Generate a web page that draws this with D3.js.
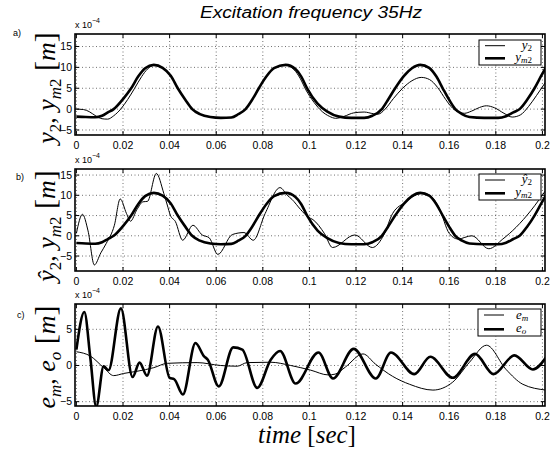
<!DOCTYPE html>
<html><head><meta charset="utf-8">
<script src="https://cdn.jsdelivr.net/npm/d3@7"></script>
<style>body{margin:0;background:#fff} svg{display:block} text{white-space:pre}</style>
</head><body><svg id="c" width="555" height="457"></svg>
<script>
// ---------- data ----------
const titleText = "Excitation frequency 35Hz";
const tTicks = [0,0.02,0.04,0.06,0.08,0.1,0.12,0.14,0.16,0.18,0.2];
const tTickLabels = ["0","0.02","0.04","0.06","0.08","0.1","0.12","0.14","0.16","0.18","0.2"];
const yTicksA = [-5,0,5,10,15];
const yTicksB = [-5,0,5,10,15];
const yTicksC = [-5,0,5];
const panelLetters = ["a)","b)","c)"];

// model output y_m2 (x 1e-4 m)
const ym2 = [[0,-1.8],[0.004,-1.9],[0.008,-1.95],[0.011,-1.6],[0.0135,-0.8],[0.016,0],[0.02,2.4],[0.0235,5],[0.0265,7.8],[0.0295,9.8],[0.0332,10.6],[0.037,9.9],[0.0405,8.0],[0.0435,5],[0.0468,2.2],[0.0497,0],[0.053,-1.2],[0.0575,-1.9],[0.062,-2.1],[0.0665,-2.0],[0.0695,-1.2],[0.0726,0],[0.0755,2.3],[0.0783,5],[0.0815,7.8],[0.0848,9.8],[0.0898,10.6],[0.094,9.6],[0.0965,7.8],[0.099,5],[0.1035,1.3],[0.1077,-0.6],[0.1127,-1.8],[0.118,-2.1],[0.1235,-2.1],[0.127,-1.6],[0.1311,0],[0.1338,2.3],[0.1368,5],[0.1405,7.9],[0.144,9.8],[0.1476,10.6],[0.1514,9.9],[0.1545,7.8],[0.1572,5],[0.16,2.2],[0.1626,0],[0.1655,-1.2],[0.1687,-1.9],[0.175,-2.1],[0.181,-2.1],[0.1844,-1.7],[0.1875,-0.8],[0.1902,0],[0.1935,2.3],[0.1966,5],[0.1995,8.0],[0.2015,10]];
// measured y_2
const y2 = [[0,0],[0.003,-0.1],[0.0055,-0.6],[0.0085,-1.7],[0.011,-2.3],[0.0134,-2.4],[0.016,-1.6],[0.019,0],[0.022,2.3],[0.025,5],[0.028,7.8],[0.0305,9.6],[0.0335,10.5],[0.037,9.9],[0.0405,8.0],[0.0435,5],[0.0468,2.2],[0.0497,0],[0.053,-1.2],[0.0575,-1.9],[0.062,-2.1],[0.0665,-2.0],[0.0695,-1.2],[0.0726,0],[0.0755,2.3],[0.0783,5],[0.0815,7.8],[0.0848,9.8],[0.0895,10.6],[0.0935,9.4],[0.096,7.4],[0.0985,4.6],[0.102,1.6],[0.1055,-0.6],[0.1085,-1.7],[0.1113,-2.2],[0.115,-1.7],[0.119,-0.9],[0.1235,-0.7],[0.1275,-1.1],[0.1295,-1.2],[0.1325,0.0],[0.136,2.5],[0.14,5.0],[0.144,6.8],[0.148,7.6],[0.1515,7.1],[0.155,5.2],[0.1585,2.3],[0.1615,0.2],[0.1645,-0.8],[0.1665,-1.0],[0.1695,-0.5],[0.173,0.4],[0.176,0.8],[0.1795,0.3],[0.1835,-1.0],[0.187,-1.9],[0.1905,-1.4],[0.194,0.6],[0.1975,3.3],[0.2015,6.6]];
// estimated y_2 hat
const y2hat = [[0,0.6],[0.0026,5.3],[0.005,1.2],[0.0077,-7.2],[0.0105,-4.2],[0.0128,-1.9],[0.0163,2.6],[0.0188,9.1],[0.0215,5.5],[0.0232,3.6],[0.026,6.5],[0.0286,8.4],[0.0305,8.5],[0.0343,15.4],[0.0375,10.5],[0.039,7.6],[0.0403,5.1],[0.0425,3.5],[0.0456,-1.1],[0.050,2.6],[0.054,0.2],[0.057,-0.5],[0.0607,-4.6],[0.0669,0.3],[0.0719,0.8],[0.0759,-1.1],[0.081,5.5],[0.0874,11.9],[0.0905,10.0],[0.0925,9.0],[0.0962,6.5],[0.0995,4.6],[0.1015,4.0],[0.1065,0.5],[0.1099,-2.9],[0.1195,0.2],[0.127,-2.9],[0.132,0.3],[0.1357,5.5],[0.1415,8.4],[0.145,9.9],[0.149,10.5],[0.153,9.3],[0.1557,6.8],[0.16,0.6],[0.1637,-0.8],[0.1697,0.0],[0.177,-3.2],[0.183,-0.8],[0.1887,2.1],[0.195,6.2],[0.2015,11.3]];
// errors
const em = [[0,1.9],[0.006,1.3],[0.0117,-0.3],[0.016,-1.4],[0.0203,-1.1],[0.026,-0.8],[0.0332,-0.3],[0.039,0.3],[0.0518,0.4],[0.0619,0.0],[0.069,-0.1],[0.0733,0.4],[0.0834,0.45],[0.092,0.0],[0.1006,-0.65],[0.108,-1.3],[0.111,-1.2],[0.1155,-0.2],[0.123,1.6],[0.1283,0.2],[0.1357,-1.5],[0.143,-2.6],[0.153,-3.4],[0.1615,-2.3],[0.1687,0.45],[0.176,2.8],[0.1844,-0.55],[0.1916,-2.6],[0.2015,-3.4]];
const eo = [[0,2.2],[0.0034,7.4],[0.006,1.0],[0.0085,-5.7],[0.0117,-0.1],[0.0138,-0.65],[0.0191,7.9],[0.0241,-1.6],[0.0271,0.4],[0.0303,-1.4],[0.035,5.4],[0.040,-1.7],[0.042,-1.9],[0.0457,-4.0],[0.0511,3.1],[0.0547,1.3],[0.0564,0.8],[0.0611,-2.9],[0.0673,2.5],[0.0712,2.2],[0.0776,-3.1],[0.0834,0.8],[0.0874,2.0],[0.0941,-2.5],[0.1039,1.8],[0.1101,-1.8],[0.119,2.3],[0.1285,-1.8],[0.135,1.8],[0.145,-1.2],[0.1519,1.2],[0.1615,-1.7],[0.1711,1.6],[0.179,-1.2],[0.188,1.4],[0.1959,-0.55],[0.2015,1.1]];

// ---------- drawing ----------
const svg = d3.select("#c");
const L = 75, R = 545;
const x = d3.scaleLinear().domain([-0.0006, 0.2011]).range([L, R]);
const SERIF = "'Liberation Serif','DejaVu Serif',serif";
const SANS = "'Liberation Sans',Arial,Helvetica,sans-serif";

svg.append("text").attr("x", 311).attr("y", 18).attr("text-anchor","middle")
  .attr("font-family", SANS).attr("font-style","italic").attr("font-size",16)
  .attr("textLength",222).attr("lengthAdjust","spacingAndGlyphs").text(titleText);

const panels = [
  {top:34, bot:135, dom:[-6.2,18], ticks:yTicksA, series:[{d:y2,w:1},{d:ym2,w:2.6}], let:{x:13,y:36},
   label:[["y",1,0],["2",0,1],[", ",0,0],["y",1,0],["m",1,1],["2",0,1],[" [",0,0,1],["m",1,0],["]",0,0,1]], lc:88,
   leg:{x:479,y:40,w:62,h:25,l1:45.7,l2:58.3,t1:48.5,t2:61,anchor:"end",tx:532, n:[["y",""],["y","m2"]], n1sub:"2"}},
  {top:169, bot:271, dom:[-8.7,16.5], ticks:yTicksB, series:[{d:y2hat,w:1},{d:ym2,w:2.6}], let:{x:16,y:180},
   label:[["ŷ",1,0],["2",0,1],[", ",0,0],["y",1,0],["m",1,1],["2",0,1],[" [",0,0,1],["m",1,0],["]",0,0,1]], lc:226,
   leg:{x:479,y:174,w:62,h:26,l1:180,l2:193.3,t1:182.5,t2:195.5,anchor:"end",tx:532, n:[["ŷ",""],["y","m2"]], n1sub:"2"}},
  {top:304, bot:406, dom:[-5.6,8.5], ticks:yTicksC, series:[{d:em,w:1},{d:eo,w:2.6}], let:{x:17,y:318},
   label:[["e",1,0],["m",1,1],[", ",0,0],["e",1,0],["o",1,1],[" [",0,0,1],["m",1,0],["]",0,0,1]], lc:357,
   leg:{x:478,y:309,w:63,h:27,l1:315,l2:329.3,t1:318.5,t2:332,anchor:"start",tx:516, n:[["e",""],["e","o"]], n1sub:"m"}}
];

panels.forEach((p, i) => {
  const y = d3.scaleLinear().domain(p.dom).range([p.bot, p.top]);
  const g = svg.append("g");
  const cid = "clip"+i;
  svg.append("clipPath").attr("id", cid).append("rect")
    .attr("x", L).attr("y", p.top).attr("width", R-L).attr("height", p.bot-p.top);

  // grid
  g.selectAll(".gx").data(tTicks).join("line")
    .attr("x1", d=>x(d)).attr("x2", d=>x(d)).attr("y1", p.top).attr("y2", p.bot)
    .attr("stroke","#333").attr("stroke-width",0.7).attr("stroke-dasharray","1,2.5");
  g.selectAll(".gy").data(p.ticks).join("line")
    .attr("y1", d=>y(d)).attr("y2", d=>y(d)).attr("x1", L).attr("x2", R)
    .attr("stroke","#333").attr("stroke-width",0.7).attr("stroke-dasharray","1,2.5");

  // inward ticks on all sides
  const tl = 4;
  g.selectAll(".tb").data(tTicks).join("line")
    .attr("x1", d=>x(d)).attr("x2", d=>x(d)).attr("y1", p.bot).attr("y2", p.bot-tl).attr("stroke","#000");
  g.selectAll(".tt").data(tTicks).join("line")
    .attr("x1", d=>x(d)).attr("x2", d=>x(d)).attr("y1", p.top).attr("y2", p.top+tl).attr("stroke","#000");
  g.selectAll(".tlft").data(p.ticks).join("line")
    .attr("y1", d=>y(d)).attr("y2", d=>y(d)).attr("x1", L).attr("x2", L+tl).attr("stroke","#000");
  g.selectAll(".trgt").data(p.ticks).join("line")
    .attr("y1", d=>y(d)).attr("y2", d=>y(d)).attr("x1", R).attr("x2", R-tl).attr("stroke","#000");

  // lines
  const line = d3.line().x(d=>x(d[0])).y(d=>y(d[1])).curve(d3.curveMonotoneX);
  p.series.forEach(s => {
    g.append("path").attr("d", line(s.d)).attr("fill","none").attr("stroke","#000")
      .attr("stroke-width", s.w).attr("stroke-linejoin","round").attr("clip-path", `url(#${cid})`);
  });

  // frame
  g.append("rect").attr("x", L).attr("y", p.top).attr("width", R-L).attr("height", p.bot-p.top)
    .attr("fill","none").attr("stroke","#000").attr("stroke-width",1.6);

  // tick labels
  g.selectAll(".xl").data(tTicks).join("text")
    .attr("x", d=>x(d)).attr("y", p.bot+14).attr("text-anchor","middle")
    .attr("font-family", SANS).attr("font-size",10.5).text((d,k)=>tTickLabels[k]);
  g.selectAll(".yl").data(p.ticks).join("text")
    .attr("x", L-3).attr("y", d=>y(d)+3.8).attr("text-anchor","end")
    .attr("font-family", SANS).attr("font-size",10.5).text(d=>d<0 ? "\u2212"+Math.abs(d) : String(d));

  // exponent
  const ex = g.append("text").attr("x", L).attr("y", p.top-6).attr("font-family", SANS).attr("font-size",9);
  ex.append("tspan").text("x 10");
  ex.append("tspan").attr("dy",-5).attr("font-size",7).text("\u22124");

  // panel letter
  g.append("text").attr("x", p.let.x).attr("y", p.let.y).attr("font-family", SANS).attr("font-size",9).text(panelLetters[i]);

  // y label
  const yl = g.append("text").attr("transform", `translate(55,${p.lc}) rotate(-90)`)
    .attr("text-anchor","middle").attr("font-family", SERIF);
  let shifted = false;
  p.label.forEach(([t, it, sub, big]) => {
    const ts = yl.append("tspan").text(t).attr("font-size", sub ? 17 : (big ? 30 : 26));
    if (it) ts.attr("font-style","italic");
    if (sub && !shifted) { ts.attr("dy", 6); shifted = true; }
    if (!sub && shifted) { ts.attr("dy", -6); shifted = false; }
  });

  // legend
  const lg = p.leg;
  g.append("rect").attr("x", lg.x).attr("y", lg.y).attr("width", lg.w).attr("height", lg.h)
    .attr("fill","#fff").attr("stroke","#000").attr("stroke-width",1);
  g.append("line").attr("x1", lg.x+6).attr("x2", lg.x+26).attr("y1", lg.l1).attr("y2", lg.l1).attr("stroke","#000").attr("stroke-width",1);
  g.append("line").attr("x1", lg.x+6).attr("x2", lg.x+26).attr("y1", lg.l2).attr("y2", lg.l2).attr("stroke","#000").attr("stroke-width",2.6);
  const t1 = g.append("text").attr("x", lg.tx).attr("y", lg.t1).attr("text-anchor", lg.anchor)
    .attr("font-family", SERIF).attr("font-size", 13);
  t1.append("tspan").attr("font-style","italic").text(lg.n[0][0]);
  t1.append("tspan").attr("font-size",9).attr("dy",2).attr("font-style", lg.n1sub==="m"?"italic":"normal").text(lg.n1sub);
  const t2 = g.append("text").attr("x", lg.tx).attr("y", lg.t2).attr("text-anchor", lg.anchor)
    .attr("font-family", SERIF).attr("font-size", 13);
  t2.append("tspan").attr("font-style","italic").text(lg.n[1][0]);
  if (lg.n[1][1] === "m2") {
    t2.append("tspan").attr("font-size",9).attr("dy",2).attr("font-style","italic").text("m");
    t2.append("tspan").attr("font-size",9).text("2");
  } else {
    t2.append("tspan").attr("font-size",9).attr("dy",2).attr("font-style","italic").text(lg.n[1][1]);
  }
});

// x label
const xl = svg.append("text").attr("x", 307).attr("y", 443).attr("text-anchor","middle")
  .attr("font-family", SERIF).attr("font-size", 25);
xl.append("tspan").attr("font-style","italic").text("time ");
xl.append("tspan").text("[");
xl.append("tspan").attr("font-style","italic").text("sec");
xl.append("tspan").text("]");
</script></body></html>
